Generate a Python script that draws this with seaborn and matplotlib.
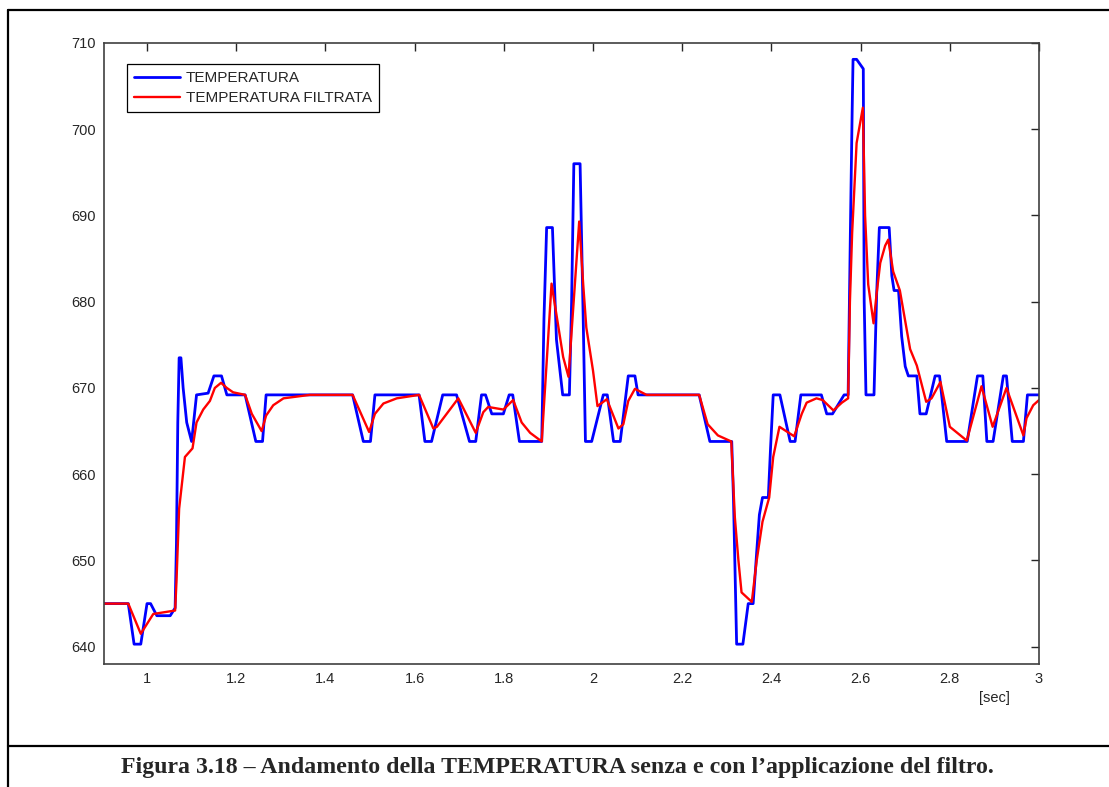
import matplotlib
matplotlib.use("Agg")
import matplotlib.pyplot as plt
from matplotlib.lines import Line2D
import numpy as np
import pandas as pd
import seaborn as sns

# dati: tempo [s] e temperatura
t_raw = [0.904, 0.958, 0.971, 0.986, 1.000, 1.008, 1.022, 1.052, 1.063, 1.066,
         1.069, 1.072, 1.076, 1.081, 1.089, 1.100, 1.111, 1.137, 1.150, 1.167,
         1.179, 1.220, 1.244, 1.259, 1.267, 1.461, 1.485, 1.501, 1.511, 1.610,
         1.623, 1.638, 1.663, 1.694, 1.723, 1.737, 1.750, 1.759, 1.773, 1.799,
         1.812, 1.820, 1.835, 1.885, 1.890, 1.896, 1.909, 1.918, 1.932, 1.947,
         1.952, 1.957, 1.971, 1.978, 1.983, 1.997, 2.023, 2.032, 2.046, 2.061,
         2.079, 2.094, 2.101, 2.238, 2.262, 2.311, 2.315, 2.322, 2.336, 2.348,
         2.359, 2.367, 2.373, 2.380, 2.393, 2.398, 2.404, 2.419, 2.442, 2.453,
         2.466, 2.512, 2.524, 2.537, 2.563, 2.572, 2.577, 2.581, 2.583, 2.591,
         2.606, 2.608, 2.612, 2.630, 2.636, 2.642, 2.664, 2.670, 2.675, 2.685,
         2.692, 2.700, 2.707, 2.726, 2.733, 2.747, 2.767, 2.777, 2.793, 2.839,
         2.862, 2.874, 2.883, 2.897, 2.920, 2.927, 2.940, 2.965, 2.974, 3.000]
temp_raw = [645.0, 645.0, 640.3, 640.3, 645.0, 645.0, 643.6, 643.6, 644.5, 652.0,
            666.0, 673.5, 673.5, 670.0, 666.0, 663.8, 669.2, 669.4, 671.4, 671.4,
            669.2, 669.2, 663.8, 663.8, 669.2, 669.2, 663.8, 663.8, 669.2, 669.2,
            663.8, 663.8, 669.2, 669.2, 663.8, 663.8, 669.2, 669.2, 667.0, 667.0,
            669.2, 669.2, 663.8, 663.8, 678.0, 688.6, 688.6, 675.6, 669.2, 669.2,
            680.0, 696.0, 696.0, 678.0, 663.8, 663.8, 669.2, 669.2, 663.8, 663.8,
            671.4, 671.4, 669.2, 669.2, 663.8, 663.8, 657.0, 640.3, 640.3, 645.0,
            645.0, 651.0, 655.3, 657.3, 657.3, 663.0, 669.2, 669.2, 663.8, 663.8,
            669.2, 669.2, 667.0, 667.0, 669.2, 669.2, 688.0, 702.0, 708.1, 708.1,
            707.0, 680.0, 669.2, 669.2, 681.0, 688.6, 688.6, 683.0, 681.3, 681.3,
            676.0, 672.5, 671.4, 671.4, 667.0, 667.0, 671.4, 671.4, 663.8, 663.8,
            671.4, 671.4, 663.8, 663.8, 671.4, 671.4, 663.8, 663.8, 669.2, 669.2]

t_filt = [0.904, 0.958, 0.986, 1.014, 1.063, 1.066, 1.072, 1.085, 1.102, 1.111,
          1.126, 1.141, 1.152, 1.166, 1.179, 1.193, 1.220, 1.235, 1.257, 1.267,
          1.283, 1.306, 1.365, 1.461, 1.498, 1.511, 1.530, 1.560, 1.610, 1.642,
          1.650, 1.698, 1.737, 1.754, 1.765, 1.799, 1.821, 1.840, 1.859, 1.885,
          1.907, 1.933, 1.945, 1.969, 1.978, 1.985, 2.000, 2.010, 2.031, 2.057,
          2.068, 2.079, 2.094, 2.120, 2.238, 2.257, 2.280, 2.310, 2.318, 2.326,
          2.333, 2.356, 2.367, 2.380, 2.395, 2.404, 2.418, 2.451, 2.468, 2.479,
          2.501, 2.515, 2.539, 2.558, 2.572, 2.576, 2.581, 2.591, 2.605, 2.610,
          2.617, 2.629, 2.636, 2.644, 2.655, 2.662, 2.673, 2.688, 2.711, 2.726,
          2.747, 2.759, 2.779, 2.800, 2.838, 2.871, 2.896, 2.927, 2.965, 2.972,
          2.987, 3.000]
temp_filt = [645.0, 645.0, 641.5, 643.8, 644.2, 647.5, 656.0, 662.0, 663.0, 666.0,
             667.5, 668.5, 670.0, 670.6, 670.0, 669.5, 669.2, 667.0, 665.0, 666.8,
             668.0, 668.8, 669.2, 669.2, 664.9, 667.0, 668.2, 668.8, 669.2, 665.3,
             665.5, 668.8, 664.8, 667.2, 667.8, 667.5, 668.6, 666.0, 664.8, 663.8,
             682.1, 673.6, 671.3, 689.3, 682.0, 677.0, 672.0, 667.9, 668.7, 665.3,
             665.8, 668.5, 669.9, 669.2, 669.2, 665.8, 664.5, 663.8, 655.0, 650.0,
             646.3, 645.2, 650.0, 654.5, 657.3, 662.0, 665.5, 664.4, 667.0, 668.3,
             668.8, 668.6, 667.4, 668.3, 668.8, 680.0, 688.0, 698.4, 702.5, 690.0,
             682.0, 677.5, 681.0, 684.5, 686.5, 687.2, 683.5, 681.3, 674.5, 672.6,
             668.4, 668.8, 670.7, 665.5, 663.9, 670.2, 665.5, 670.0, 664.5, 666.5,
             668.0, 668.6]

x_ticks = [1, 1.2, 1.4, 1.6, 1.8, 2, 2.2, 2.4, 2.6, 2.8, 3]
x_labels = ["1", "1.2", "1.4", "1.6", "1.8", "2", "2.2", "2.4", "2.6", "2.8", "3"]
y_ticks = [640, 650, 660, 670, 680, 690, 700, 710]

df_raw = pd.DataFrame({"t": t_raw, "T": temp_raw})
df_filt = pd.DataFrame({"t": t_filt, "T": temp_filt})

sns.set_style("white")
plt.rcParams["font.family"] = ["Liberation Sans", "DejaVu Sans"]
plt.rcParams["xtick.direction"] = "in"
plt.rcParams["ytick.direction"] = "in"

fig = plt.figure(figsize=(11.09, 7.87), dpi=100)
ax = fig.add_axes([0.0938, 0.1563, 0.8431, 0.7891])

sns.lineplot(data=df_raw, x="t", y="T", ax=ax, color="#0000ff", lw=2.0,
             sort=False, estimator=None, label="TEMPERATURA")
sns.lineplot(data=df_filt, x="t", y="T", ax=ax, color="#ff0000", lw=1.7,
             sort=False, estimator=None, label="TEMPERATURA FILTRATA")

ax.set_xlim(0.9036, 3.0)
ax.set_ylim(638.0, 710.0)
ax.set_xticks(x_ticks)
ax.set_xticklabels(x_labels)
ax.set_yticks(y_ticks)
ax.set_xlabel("")
ax.set_ylabel("")
ax.tick_params(axis="both", labelsize=10.5, colors="#262626", length=6, width=1,
               top=True, right=True, pad=6)
for s in ax.spines.values():
    s.set_color("#404040")
    s.set_linewidth(1.2)

leg = ax.legend(loc="upper left", bbox_to_anchor=(0.0246, 0.966), fontsize=11,
                frameon=True, fancybox=False, framealpha=1, edgecolor="black",
                handlelength=3.0, borderpad=0.45, labelspacing=0.42, handletextpad=0.4,
                borderaxespad=0)
leg.get_frame().set_linewidth(0.9)

fig.text(0.897, 0.113, "[sec]", fontsize=10.5, ha="center", va="center", color="#262626")

# cornice della figura e didascalia
fig.add_artist(Line2D([0.0072, 1.0], [0.9873, 0.9873], color="black", lw=1.6))
fig.add_artist(Line2D([0.0072, 0.0072], [0.0, 0.9873], color="black", lw=1.6))
fig.add_artist(Line2D([0.0072, 1.0], [0.0521, 0.0521], color="black", lw=1.6))
fig.text(0.503, 0.0254,
         "Figura 3.18 \u2013 Andamento della TEMPERATURA senza e con l\u2019applicazione del filtro.",
         fontsize=17.2, fontweight="bold", family=["Liberation Serif", "DejaVu Serif"],
         ha="center", va="center")

fig.savefig("out.png", dpi=100)
